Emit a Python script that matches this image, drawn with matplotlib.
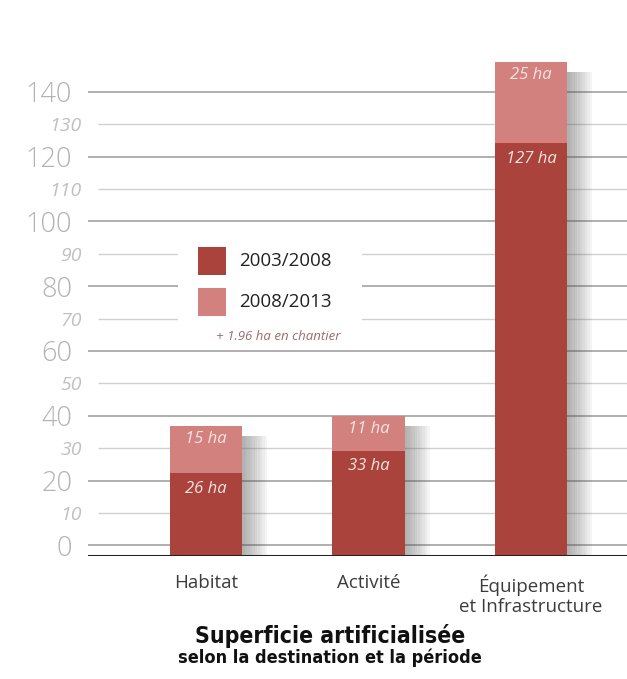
import matplotlib.pyplot as plt
import matplotlib.patches as mpatches
import numpy as np

plt.rcParams['font.family'] = ['Open Sans', 'DejaVu Sans']

categories = ['Habitat', 'Activité', 'Équipement\net Infrastructure']
# bar heights as drawn in the picture (axis units)
h_2003 = [22.2, 29.2, 124.1]
h_2008 = [14.6, 10.7, 25.1]
lab_2003 = ['26 ha', '33 ha', '127 ha']
lab_2008 = ['15 ha', '11 ha', '25 ha']
major_ticks = [0, 20, 40, 60, 80, 100, 120, 140]
minor_ticks = [10, 30, 50, 70, 90, 110, 130]
series_names = ['2003/2008', '2008/2013']

dark = '#a9433b'
light = '#d3817f'
base = -3.3
W, H = 627, 679


def fx(px):
    return px / W


def fy(py):
    return 1 - py / H


fig = plt.figure(figsize=(6.27, 6.79), dpi=100)
ax = fig.add_axes([fx(88), fy(556), 539/W, (556 - 40)/H])
x = np.arange(len(categories))
xmin, xmax = -0.726, 2.591
ax.set_xlim(xmin, xmax)
ax.set_ylim(base, 156)
for s in ax.spines.values():
    s.set_visible(False)

# gridlines
ax.hlines(major_ticks, xmin, xmax, color='#9a9a9a', lw=1.1, zorder=1)
ax.hlines(minor_ticks, xmin + 10/162.5, xmax, color='#d0d0d0', lw=1.0, zorder=1)
# gap in gridlines behind the legend
ax.add_patch(mpatches.Rectangle((xmin + 90/162.5, 63), 184/162.5, 33,
                                facecolor='white', edgecolor='none', zorder=2))
ax.axhline(base, color='#222222', lw=2.2, zorder=6)

ax.set_yticks(major_ticks)
ax.set_yticks(minor_ticks, labels=[str(v) for v in minor_ticks], minor=True)
ax.tick_params(which='major', axis='y', length=0, pad=11.5, labelsize=19.5, labelcolor='#b3b3b3')
ax.tick_params(which='minor', axis='y', length=0, pad=4.5, labelsize=14, labelcolor='#c0c0c0')
for t in ax.get_yticklabels(minor=True):
    t.set_style('italic')
for t in ax.get_yticklabels():
    t.set_fontweight('light')

ax.set_xticks(x, labels=categories)
ax.tick_params(axis='x', length=0, pad=13, labelsize=13.5, labelcolor='#3c3c3c')
for t in ax.get_xticklabels():
    t.set_verticalalignment('top')
    t.set_linespacing(1.15)

w = 0.446
# soft shadow on the right of each bar
for xi, top in zip(x, np.add(h_2003, h_2008)):
    for k in range(1, 11):
        ax.add_patch(mpatches.Rectangle((xi + w/2, base), k * 2.5/162.5, top - 3 - base,
                                        facecolor='#555555', edgecolor='none', alpha=0.055, zorder=3))

ax.bar(x, np.subtract(h_2003, base), w, bottom=base, color=dark, zorder=4)
ax.bar(x, h_2008, w, bottom=h_2003, color=light, zorder=4)

for xi, b, t, l1, l2 in zip(x, h_2003, h_2008, lab_2003, lab_2008):
    ax.annotate(l1, (xi, b), xytext=(0, -11), textcoords='offset points', ha='center', va='center',
                color='#f6e4e0', fontsize=12, style='italic', zorder=5)
    ax.annotate(l2, (xi, b + t), xytext=(0, -9.5), textcoords='offset points', ha='center', va='center',
                color='#f6e4e0', fontsize=12, style='italic', zorder=5)

# legend drawn by hand
for (top, col, name) in [(247, dark, series_names[0]), (288, light, series_names[1])]:
    fig.patches.append(mpatches.Rectangle((fx(198), fy(top + 28)), 28/W, 28/H, facecolor=col,
                                          edgecolor='none', transform=fig.transFigure, figure=fig))
    fig.text(fx(239), fy(top + 14), name, ha='left', va='center', fontsize=13.5, color='#222222')
fig.text(fx(278), fy(336), '+ 1.96 ha en chantier', ha='center', va='center',
         fontsize=9.5, style='italic', color='#9a6c6c')

title_font = ['Liberation Sans Narrow', 'DejaVu Sans']
fig.text(fx(330), fy(636), 'Superficie artificialisée', ha='center', va='center',
         fontsize=16.5, fontweight='bold', family=title_font, fontstretch='condensed', color='#111111')
fig.text(fx(330), fy(658), 'selon la destination et la période', ha='center', va='center',
         fontsize=13, fontweight='bold', family=title_font, fontstretch='condensed', color='#111111')

fig.savefig('out.png', dpi=100)
